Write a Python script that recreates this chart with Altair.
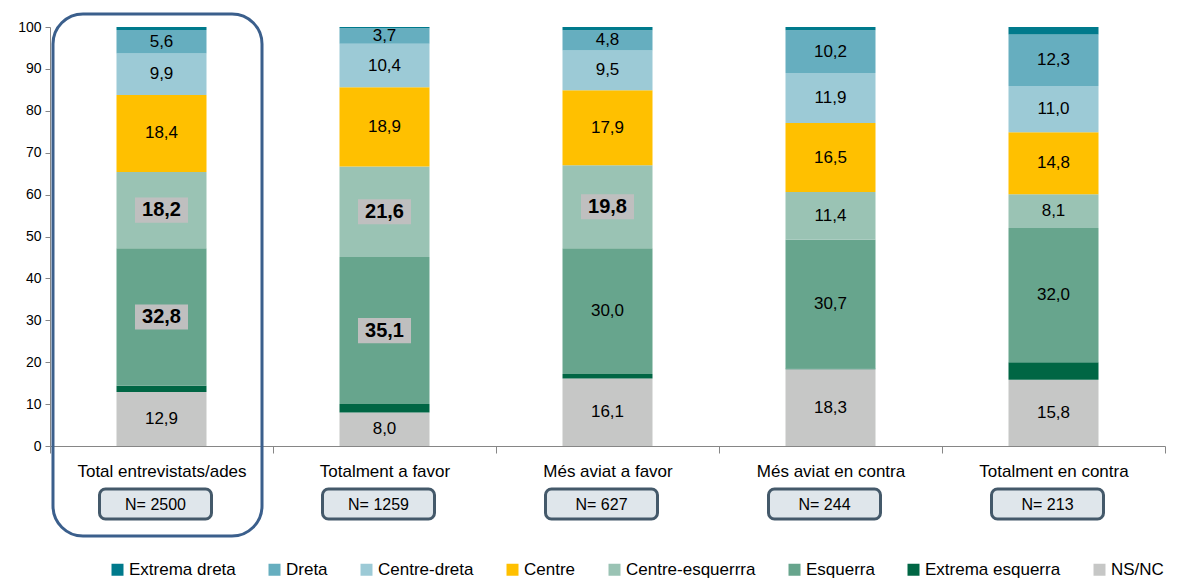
import altair as alt
import pandas as pd

groups = ["Total entrevistats/ades", "Totalment a favor", "Més aviat a favor",
          "Més aviat en contra", "Totalment en contra"]
n_values = [2500, 1259, 627, 244, 213]

# stacking order bottom -> top
stack_order = ["NS/NC", "Extrema esquerra", "Esquerra", "Centre-esquerrra",
               "Centre", "Centre-dreta", "Dreta", "Extrema dreta"]
ns_nc = [12.9, 8.0, 16.1, 18.3, 15.8]
extrema_esquerra = [1.5, 2.0, 1.1, 0.2, 4.2]
esquerra = [32.8, 35.1, 30.0, 30.7, 32.0]
centre_esquerra = [18.2, 21.6, 19.8, 11.4, 8.1]
centre = [18.4, 18.9, 17.9, 16.5, 14.8]
centre_dreta = [9.9, 10.4, 9.5, 11.9, 11.0]
dreta = [5.6, 3.7, 4.8, 10.2, 12.3]
extrema_dreta = [0.7, 0.3, 0.8, 0.8, 1.8]

series = [ns_nc, extrema_esquerra, esquerra, centre_esquerra, centre,
          centre_dreta, dreta, extrema_dreta]
labelled = ["NS/NC", "Esquerra", "Centre-esquerrra", "Centre", "Centre-dreta", "Dreta"]
highlighted = [("Total entrevistats/ades", "Esquerra"),
               ("Total entrevistats/ades", "Centre-esquerrra"),
               ("Totalment a favor", "Esquerra"),
               ("Totalment a favor", "Centre-esquerrra"),
               ("Més aviat a favor", "Centre-esquerrra")]

legend_order = ["Extrema dreta", "Dreta", "Centre-dreta", "Centre",
                "Centre-esquerrra", "Esquerra", "Extrema esquerra", "NS/NC"]
legend_colors = ["#007a8c", "#66aebf", "#9ccad6", "#ffc000",
                 "#9ac3b4", "#67a58d", "#006644", "#c6c7c6"]

rows = []
for gi, g in enumerate(groups):
    cum = 0.0
    for ci, cat in enumerate(stack_order):
        v = series[ci][gi]
        rows.append({
            "group": g, "category": cat, "value": v,
            "y0": cum, "y1": cum + v, "mid": cum + v / 2,
            "label": f"{v:.1f}".replace(".", ","),
            "show": cat in labelled,
            "bold": (g, cat) in highlighted,
        })
        cum += v
df = pd.DataFrame(rows)
ndf = pd.DataFrame({"group": groups, "n": [f"N= {n}" for n in n_values]})
first_df = pd.DataFrame({"group": groups[:1]})

FONT = "Liberation Sans"
W, H = 1115, 419

x_enc = alt.X("group:N", sort=groups,
              scale=alt.Scale(paddingInner=0, paddingOuter=0),
              axis=alt.Axis(title=None, labelFontSize=17, labelColor="#000000",
                            labelFont=FONT, tickBand="extent", tickSize=7,
                            tickColor="#868686", domainColor="#868686",
                            labelPadding=10, labelAngle=0))
y_scale = alt.Scale(domain=[0, 100], nice=False)

bars = alt.Chart(df).mark_bar(width=90).encode(
    x=x_enc,
    y=alt.Y("y0:Q", scale=y_scale,
            axis=alt.Axis(title=None, values=list(range(0, 101, 10)),
                          grid=False, labelFontSize=14, labelColor="#000000",
                          labelFont=FONT, tickSize=5, tickColor="#868686",
                          domainColor="#868686", labelPadding=4)),
    y2="y1:Q",
    color=alt.Color("category:N",
                    scale=alt.Scale(domain=legend_order, range=legend_colors),
                    legend=alt.Legend(title=None, orient="none", legendX=59,
                                      legendY=534, direction="horizontal",
                                      symbolType="square", symbolSize=144,
                                      symbolStrokeWidth=0,
                                      labelFontSize=17, labelFont=FONT,
                                      labelColor="#000000", columnPadding=30,
                                      labelOffset=3)),
)

boxes = alt.Chart(df).transform_filter("datum.bold").transform_calculate(
    lo="datum.mid - 3.0", hi="datum.mid + 3.0"
).mark_bar(width=53, color="#bfbfbf").encode(
    x=alt.X("group:N", sort=groups), y="lo:Q", y2="hi:Q")

normal_text = alt.Chart(df).transform_filter("datum.show && !datum.bold").mark_text(
    fontSize=17, font=FONT, color="#000000").encode(
    x=alt.X("group:N", sort=groups), y="mid:Q", text="label:N")

bold_text = alt.Chart(df).transform_filter("datum.bold").mark_text(
    fontSize=20, font=FONT, fontWeight="bold", color="#000000").encode(
    x=alt.X("group:N", sort=groups), y="mid:Q", text="label:N")

nbox = alt.Chart(ndf).mark_bar(width=112, cornerRadius=6, fill="#dfe6eb",
                               stroke="#44596a", strokeWidth=3, xOffset=-6).encode(
    x=alt.X("group:N", sort=groups), y=alt.value(462), y2=alt.value(492))
ntext = alt.Chart(ndf).mark_text(fontSize=16, font=FONT, color="#000000",
                                 xOffset=-6).encode(
    x=alt.X("group:N", sort=groups), y=alt.value(478), text="n:N")

bigbox = alt.Chart(first_df).mark_bar(width=209, cornerRadius=30, fillOpacity=0,
                                      fill="white", stroke="#3b5f8c",
                                      strokeWidth=3, xOffset=-4).encode(
    x=alt.X("group:N", sort=groups), y=alt.value(-13), y2=alt.value(509))

chart = alt.layer(bars, boxes, normal_text, bold_text, nbox, ntext, bigbox).properties(
    width=W, height=H, padding={"left": 9, "top": 4, "right": 0, "bottom": 0}
).configure_view(stroke=None)

chart.save("out.html", embed_options={"renderer": "svg", "actions": False})
